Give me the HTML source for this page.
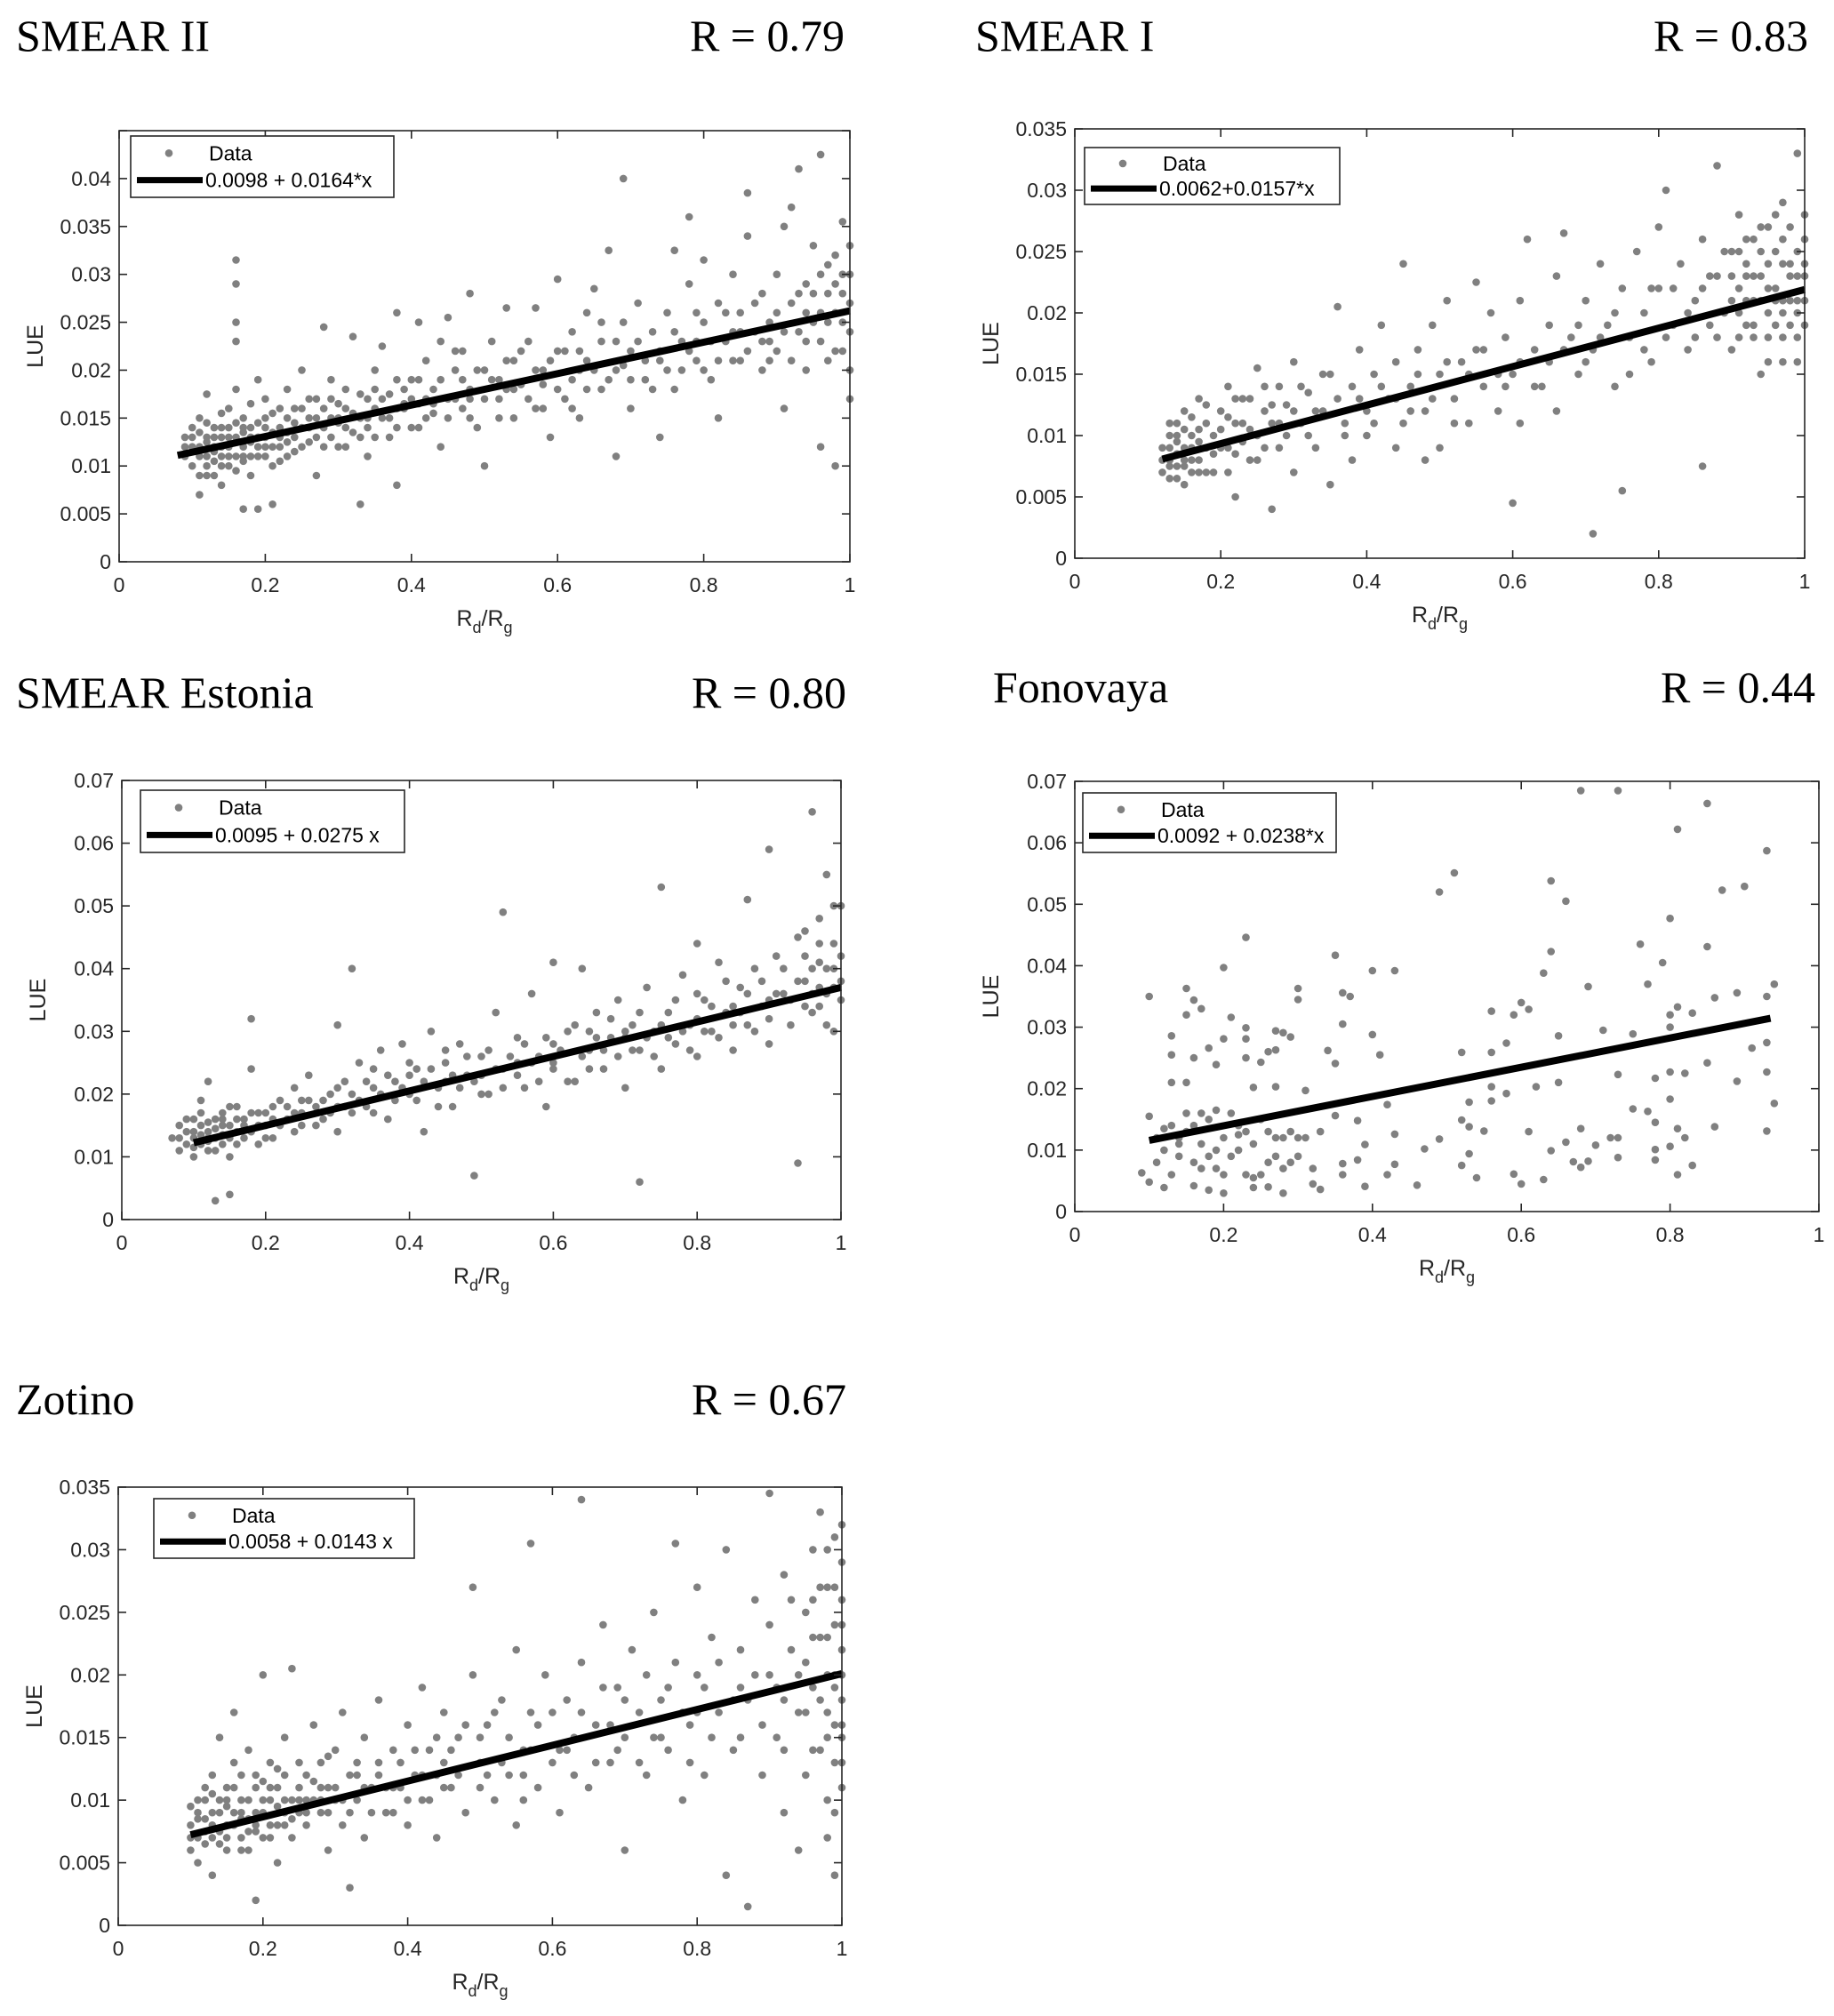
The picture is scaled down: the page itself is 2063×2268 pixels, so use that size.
<!DOCTYPE html>
<html><head><meta charset="utf-8">
<style>
html,body{margin:0;padding:0;background:#fff;}
svg{display:block;}
.t{font-family:"Liberation Serif",serif;font-size:50px;fill:#000;}
.tk{font-family:"Liberation Sans",sans-serif;font-size:23px;fill:#262626;}
.lg{font-family:"Liberation Sans",sans-serif;font-size:23px;fill:#000;}
.al{font-family:"Liberation Sans",sans-serif;font-size:25px;fill:#262626;}
</style></head>
<body>
<svg id="fig" width="2063" height="2268" viewBox="0 0 2063 2268" xmlns="http://www.w3.org/2000/svg"></svg>
<script>
// ---- data (x = Rd/Rg, y = LUE in units of 0.001) ----
const p1Pts=[[.09,11],[.09,13],[.10,12],[.10,10],[.10,14],[.11,9],[.11,12],[.11,15],[.11,7],[.12,11],[.12,13],[.12,10],[.12,17.5],[.13,12],[.13,14],[.13,9],[.13,11.5],[.14,13],[.14,10],[.14,15.5],[.14,8],[.15,12],[.15,14],[.15,11],[.15,16],[.16,13],[.16,9.5],[.16,31.5],[.16,29],[.16,25],[.16,23],[.16,18],[.17,12],[.17,15],[.17,10.5],[.17,5.5],[.18,14],[.18,12.5],[.18,16.5],[.18,9],[.19,13],[.19,11],[.19,19],[.19,5.5],[.20,15],[.20,12],[.20,17],[.21,13.5],[.21,10],[.21,6],[.22,14],[.22,16],[.22,12],[.23,15],[.23,11],[.23,18],[.24,14.5],[.24,13],[.25,16],[.25,12],[.25,20],[.26,15],[.26,17],[.27,13],[.27,9],[.28,16],[.28,24.5],[.28,14],[.29,15],[.29,19],[.30,16.5],[.30,12],[.31,14],[.31,18],[.32,23.5],[.32,15.5],[.33,13],[.33,6],[.34,17],[.34,11],[.35,16],[.35,20],[.36,15],[.36,22.5],[.37,17.5],[.37,13],[.38,26],[.38,16],[.38,8],[.39,18],[.40,14],[.40,19],[.41,16.5],[.41,25],[.42,21],[.42,15],[.43,18],[.44,23],[.44,12],[.45,17],[.45,25.5],[.46,20],[.47,16],[.47,22],[.48,28],[.48,18],[.49,14],[.50,20],[.50,10],[.51,23],[.52,17],[.52,19],[.53,26.5],[.54,21],[.54,15],[.55,18.5],[.56,23],[.57,16],[.57,26.5],[.58,20],[.59,13],[.60,22],[.60,29.5],[.61,17],[.62,24],[.62,19],[.63,15],[.64,26],[.64,21],[.65,28.5],[.66,18],[.66,23],[.67,32.5],[.68,20],[.68,11],[.69,40],[.69,25],[.70,22],[.70,16],[.71,27],[.72,19],[.73,24],[.74,13],[.74,21],[.75,26],[.76,32.5],[.76,18],[.77,23],[.78,29],[.78,36],[.79,21],[.80,25],[.80,31.5],[.81,19],[.82,27],[.82,15],[.83,23],[.84,30],[.85,21],[.85,26],[.86,34],[.86,38.5],[.87,24],[.88,20],[.88,28],[.89,25],[.90,22],[.90,30],[.91,35],[.91,16],[.92,27],[.92,37],[.93,24],[.93,41],[.94,29],[.94,20],[.95,25],[.95,33],[.96,42.5],[.96,23],[.96,12],[.97,28],[.97,31],[.98,22],[.98,26],[.98,10],[.99,30],[.99,25],[.99,35.5],[1.0,27],[1.0,20],[1.0,17],[.10,11.5],[.12,12.5],[.14,11],[.17,13.5],[.20,13],[.23,13.5],[.26,14],[.30,14.5],[.34,15],[.39,16],[.43,16.5],[.48,17],[.53,18],[.58,18.5],[.63,20],[.69,20.5],[.74,22],[.79,23],[.84,24],[.89,23],[.94,26],[.97,25]];
const p1Extra=[[.09,12],[.10,13],[.11,11],[.11,13.5],[.12,9],[.12,14.5],[.13,10.5],[.13,13],[.14,12],[.14,14],[.15,10],[.15,13],[.16,11],[.16,14.5],[.17,11],[.17,14],[.18,11],[.18,13],[.19,12],[.19,14.5],[.20,11],[.20,14],[.21,12],[.21,15.5],[.22,13],[.22,10.5],[.23,12.5],[.24,11.5],[.24,16],[.25,14],[.26,12.5],[.27,15],[.27,17],[.28,12],[.29,13],[.29,17],[.30,15],[.31,12],[.31,16],[.32,13.5],[.33,15],[.33,17.5],[.34,14],[.35,13],[.35,18],[.36,17],[.37,15],[.38,14],[.38,19],[.39,16.5],[.40,17],[.41,14],[.41,19],[.42,17],[.43,15.5],[.44,19],[.45,15],[.46,17],[.46,22],[.47,19],[.48,15],[.49,20],[.50,17],[.51,19],[.52,15],[.53,21],[.54,18],[.55,22],[.56,17],[.57,20],[.58,16],[.59,21],[.60,18],[.61,22],[.62,16],[.63,22],[.64,18],[.65,20],[.66,25],[.67,19],[.68,23],[.70,19],[.71,23],[.72,21],[.73,18],[.75,20],[.76,24],[.77,20],[.78,22],[.79,26],[.80,20],[.81,23],[.82,21],[.83,26],[.84,21],[.85,24],[.86,22],[.87,27],[.88,23],[.89,21],[.90,26],[.91,24],[.92,21],[.93,28],[.94,23],[.95,28],[.96,26],[.96,30],[.97,21],[.98,29],[.98,32],[.99,22],[.99,28],[1.0,30],[1.0,24],[1.0,33]];
const p2Pts=[[.12,8],[.12,7],[.13,9],[.13,10],[.13,6.5],[.14,8.5],[.14,11],[.14,7.5],[.15,9],[.15,12],[.15,6],[.16,10],[.16,8],[.17,9.5],[.17,13],[.18,7],[.18,11],[.19,10],[.19,8.5],[.20,12],[.20,9],[.21,14],[.21,7],[.22,11],[.22,5],[.23,13],[.23,9.5],[.24,10.5],[.25,15.5],[.25,8],[.26,12],[.27,4],[.27,11],[.28,14],[.28,9],[.29,12.5],[.30,16],[.30,7],[.31,11],[.32,13.5],[.33,9],[.34,12],[.35,15],[.35,6],[.36,20.5],[.37,11],[.38,14],[.38,8],[.39,17],[.40,12],[.40,10],[.41,15],[.42,19],[.43,13],[.44,9],[.44,16],[.45,24],[.45,11],[.46,14],[.47,17],[.48,12],[.48,8],[.49,19],[.50,15],[.50,9],[.51,21],[.52,13],[.53,16],[.54,11],[.55,22.5],[.55,17],[.56,14],[.57,20],[.58,12],[.59,18],[.60,15],[.60,4.5],[.61,21],[.61,11],[.62,26],[.63,17],[.64,14],[.65,19],[.66,23],[.66,12],[.67,26.5],[.68,18],[.69,15],[.70,21],[.71,2],[.71,17],[.72,24],[.73,19],[.74,14],[.75,22],[.75,5.5],[.76,18],[.77,25],[.78,20],[.79,16],[.80,22],[.80,27],[.81,30],[.82,19],[.83,24],[.84,17],[.85,21],[.86,26],[.86,7.5],[.87,19],[.88,23],[.88,32],[.89,20],[.90,25],[.90,17],[.91,22],[.91,28],[.92,24],[.92,19],[.93,21],[.93,26],[.94,23],[.94,15],[.95,20],[.95,27],[.96,22],[.96,25],[.97,18],[.97,29],[.98,24],[.98,21],[.99,33],[.99,16],[1.0,23],[1.0,26],[.91,20],[.92,23],[.93,18],[.94,25],[.95,22],[.96,19],[.97,24],[.98,27],[.99,20],[1.0,21],[.97,21],[.99,23],[.13,8],[.15,7.5],[.17,8],[.14,9.5]];
const p2Extra=[[.12,9],[.13,7.5],[.13,11],[.14,6.5],[.14,10],[.15,8],[.15,10.5],[.16,7],[.16,9],[.16,11.5],[.17,7],[.17,10.5],[.18,9],[.18,12.5],[.19,7],[.20,10.5],[.21,9],[.21,11.5],[.22,8.5],[.22,13],[.23,11],[.24,8],[.24,13],[.25,10],[.26,9],[.26,14],[.27,12.5],[.28,11],[.29,10],[.30,12],[.31,14],[.32,10],[.33,12],[.34,15],[.36,13],[.37,10],[.39,13],[.41,11],[.42,14],[.44,13],[.46,12],[.47,15],[.49,13],[.51,16],[.52,11],[.54,15],[.56,17],[.58,15],[.59,14],[.61,16],[.63,14],[.65,16],[.67,17],[.69,19],[.70,16],[.72,18],[.74,20],[.76,15],[.78,17],[.79,22],[.81,18],[.82,22],[.84,20],[.85,18],[.86,22],[.87,23],[.88,18],[.89,25],[.90,21],[.90,23],[.91,18],[.91,25],[.92,21],[.92,26],[.93,23],[.93,19],[.94,21],[.94,27],[.95,24],[.95,18],[.96,21],[.96,28],[.97,26],[.97,16],[.98,19],[.98,23],[.99,25],[.99,18],[1.0,19],[1.0,24],[1.0,28],[.95,16],[.97,20],[.99,21]];
const p3Pts=[[.07,13],[.08,15],[.08,11],[.09,14],[.09,12],[.10,16],[.10,10],[.10,13],[.11,15],[.11,12],[.11,19],[.12,14],[.12,11],[.12,22],[.13,16],[.13,13],[.13,3],[.14,12],[.14,17],[.15,15],[.15,10],[.15,4],[.16,14],[.16,18],[.17,13],[.17,16],[.18,24],[.18,32],[.19,17],[.19,12],[.20,15],[.21,18],[.21,13],[.22,19],[.23,16],[.24,21],[.24,14],[.25,17],[.26,23],[.27,15],[.28,19],[.29,20],[.30,31],[.30,14],[.31,22],[.32,40],[.32,17],[.33,25],[.34,18],[.35,21],[.36,27],[.37,16],[.38,22],[.39,28],[.40,20],[.41,24],[.42,14],[.43,30],[.44,21],[.45,25],[.46,18],[.47,28],[.48,23],[.49,7],[.50,26],[.51,20],[.52,33],[.53,49],[.53,24],[.55,29],[.56,21],[.57,36],[.58,26],[.59,18],[.60,41],[.60,25],[.62,30],[.63,22],[.64,40],[.65,27],[.66,33],[.67,24],[.68,29],[.69,35],[.70,21],[.71,31],[.72,6],[.72,27],[.73,37],[.74,30],[.75,53],[.75,24],[.76,33],[.77,28],[.78,39],[.79,31],[.80,44],[.80,26],[.81,35],[.82,30],[.83,41],[.84,33],[.85,27],[.86,37],[.87,51],[.87,31],[.88,40],[.89,34],[.90,59],[.90,28],[.91,42],[.92,36],[.93,31],[.94,45],[.94,9],[.95,38],[.96,65],[.96,33],[.97,41],[.97,48],[.98,36],[.98,55],[.99,30],[.99,44],[1.0,38],[1.0,50],[.10,14],[.12,13],[.14,15],[.16,16],[.20,17],[.25,19],[.30,18],[.35,24],[.40,23],[.45,22],[.50,23],[.55,25],[.60,28],[.65,30],[.70,29],[.75,31],[.80,32],[.85,34],[.90,35],[.95,42],[.97,37],[.99,40]];
const p3Extra=[[.08,13],[.09,16],[.10,11.5],[.11,13.5],[.11,17],[.12,15.5],[.12,12.5],[.13,14.5],[.13,11],[.14,13.5],[.14,16],[.15,13],[.15,18],[.16,12],[.17,15],[.18,14],[.18,17],[.19,15],[.20,13],[.21,16],[.22,15],[.23,18],[.24,17],[.25,15],[.26,19],[.27,18],[.28,16],[.29,17],[.30,21],[.31,18],[.32,20],[.33,19],[.34,22],[.35,17],[.36,20],[.37,23],[.38,19],[.39,21],[.40,25],[.41,19],[.42,22],[.43,24],[.44,18],[.45,27],[.46,23],[.47,21],[.48,26],[.49,22],[.50,20],[.51,27],[.52,24],[.53,21],[.54,26],[.55,23],[.56,28],[.57,25],[.58,22],[.59,29],[.60,24],[.61,27],[.62,22],[.63,31],[.64,26],[.65,24],[.66,29],[.67,27],[.68,32],[.69,26],[.70,30],[.71,27],[.72,33],[.73,29],[.74,26],[.76,29],[.77,35],[.78,30],[.79,27],[.80,36],[.81,30],[.82,34],[.83,29],[.84,38],[.85,31],[.86,33],[.87,36],[.88,30],[.89,38],[.90,32],[.91,36],[.92,40],[.93,35],[.94,38],[.95,34],[.95,46],[.96,40],[.96,36],[.97,34],[.97,44],[.98,40],[.98,31],[.99,37],[.99,50],[1.0,35],[1.0,42]];
const p4Pts=[[.10,35],[.68,68.5],[.73,68.5],[.85,66.4],[.81,62.2],[.93,58.7],[.51,55.1],[.49,52],[.64,53.8],[.66,50.5],[.87,52.3],[.90,52.9],[.80,47.7],[.23,44.6],[.76,43.5],[.85,43.1],[.35,41.7],[.64,42.3],[.40,39.2],[.43,39.2],[.63,38.8],[.79,40.5],[.20,39.7],[.77,37],[.69,36.6],[.15,36.3],[.36,35.6],[.37,35],[.89,35.6],[.86,34.8],[.94,37],[.93,35],[.30,36.3],[.30,34.5],[.16,34.4],[.60,34],[.56,32.6],[.59,32],[.61,32.9],[.83,32.3],[.81,33.3],[.80,32],[.17,33],[.15,32],[.21,31.6],[.36,30.5],[.27,29.4],[.28,29.1],[.23,29.9],[.29,28.4],[.13,28.6],[.40,28.8],[.58,27.4],[.65,28.6],[.71,29.5],[.75,28.9],[.20,28.1],[.23,28.1],[.80,30],[.93,27.5],[.91,26.6],[.85,24.2],[.56,25.9],[.52,25.9],[.34,26.2],[.26,26],[.27,26.3],[.18,26.6],[.13,25.5],[.16,25],[.23,25],[.25,24.3],[.35,24.1],[.41,25.5],[.19,23.9],[.73,22.3],[.82,22.5],[.80,22.7],[.93,22.7],[.89,21.2],[.65,21],[.78,21.7],[.62,20.3],[.56,20.3],[.58,19.2],[.31,19.7],[.24,20.2],[.27,20.3],[.13,21],[.15,21],[.94,17.6],[.80,18.3],[.42,17.4],[.56,18],[.53,17.8],[.75,16.7],[.77,16.3],[.78,14.5],[.53,13.8],[.55,13.1],[.52,14.9],[.38,14.8],[.35,15.6],[.61,13],[.86,13.8],[.93,13.1],[.81,13.5],[.82,12],[.68,13.5],[.72,12],[.73,12],[.70,10.8],[.66,11.3],[.43,12.6],[.49,11.8],[.47,10.2],[.39,10.9],[.64,9.9],[.67,8.1],[.69,8.2],[.68,7.2],[.73,8.8],[.78,8.4],[.78,10.1],[.80,10.6],[.83,7.5],[.81,6],[.52,7.5],[.54,5.5],[.53,9.4],[.60,4.5],[.59,6.1],[.63,5.2],[.46,4.3],[.43,7.7],[.42,6],[.39,4.1],[.38,8.4],[.36,7.8],[.36,6],[.33,3.6],[.32,4.5],[.28,3],[.26,4],[.24,3.9],[.20,3],[.18,3.5],[.16,4.2],[.12,3.9],[.10,4.8],[.09,6.3],[.11,12],[.12,10],[.13,14],[.14,9],[.15,13],[.16,8],[.17,11],[.18,15],[.19,7],[.20,12],[.21,9],[.22,14],[.23,6],[.24,11],[.25,15],[.26,8],[.27,12],[.28,7],[.29,13],[.30,9],[.11,8],[.13,6],[.15,16],[.17,7],[.19,10],[.21,16],[.23,13],[.25,6],[.27,9],[.29,8],[.31,12],[.32,7],[.14,12],[.16,14],[.18,9],[.20,6],[.22,10],[.24,5.5],[.26,13],[.28,12],[.10,15.5],[.12,13.5],[.14,11],[.17,16],[.19,16.5],[.22,12.5],[.30,12],[.33,13]];
const p4Extra=[];
const p5Pts=[[.10,8],[.10,6],[.10,9.5],[.11,7],[.11,10],[.11,5],[.12,8.5],[.12,11],[.12,6.5],[.13,9],[.13,12],[.13,4],[.14,7.5],[.14,10],[.14,15],[.15,8],[.15,6],[.15,11],[.16,9],[.16,13],[.16,17],[.17,7],[.17,10],[.17,12],[.18,8.5],[.18,6],[.18,14],[.19,9],[.19,11],[.19,2],[.20,10],[.20,7],[.20,20],[.21,8],[.21,13],[.22,9.5],[.22,11],[.22,5],[.23,10],[.23,15],[.24,7],[.24,20.5],[.25,11],[.25,9],[.26,12],[.26,8],[.27,16],[.27,10],[.28,9],[.28,13],[.29,11],[.29,6],[.30,14],[.30,10],[.31,8],[.31,17],[.32,12],[.32,3],[.33,10],[.34,15],[.34,7],[.35,11],[.36,13],[.36,18],[.37,9],[.38,14],[.39,11],[.40,16],[.40,8],[.41,12],[.42,19],[.42,10],[.43,14],[.44,7],[.45,13],[.45,17],[.46,11],[.47,15],[.48,9],[.49,20],[.49,27],[.50,13],[.51,16],[.52,10],[.53,18],[.54,12],[.55,22],[.55,8],[.56,14],[.57,17],[.57,30.5],[.58,11],[.59,20],[.60,13],[.61,9],[.62,18],[.63,15],[.64,34],[.64,21],[.65,11],[.66,16],[.67,24],[.68,13],[.69,19],[.70,6],[.70,15],[.71,22],[.72,17],[.73,12],[.74,25],[.75,18],[.76,14],[.77,30.5],[.77,21],[.78,10],[.79,16],[.80,27],[.80,20],[.81,12],[.82,23],[.83,17],[.84,4],[.84,30],[.85,14],[.86,22],[.87,1.5],[.87,18],[.88,26],[.89,12],[.90,34.5],[.90,20],[.91,15],[.92,28],[.92,9],[.93,22],[.94,17],[.94,6],[.95,25],[.95,12],[.96,30],[.96,19],[.97,23],[.97,14],[.97,33],[.98,20],[.98,27],[.98,10],[.99,16],[.99,24],[.99,31],[1.0,18],[1.0,22],[1.0,13],[1.0,26],[.99,4],[.98,7],[1.0,29],[.11,8.5],[.13,7],[.15,9.5],[.17,8.5],[.19,7.5],[.21,10],[.23,8],[.26,10],[.28,11],[.33,12],[.38,11],[.44,12],[.50,11],[.56,12],[.62,14],[.68,16],[.74,15],[.80,17],[.86,19],[.92,18],[.96,23],[.98,17],[.99,20],[1.0,15]];
const p5Extra=[[.10,7],[.11,9],[.12,7.5],[.12,10],[.13,8],[.13,10.5],[.14,6.5],[.14,9],[.15,7],[.15,10],[.16,8],[.16,11],[.17,9],[.17,6],[.18,10],[.18,7.5],[.19,8],[.19,12],[.20,9],[.20,11.5],[.21,7],[.21,11],[.22,8],[.22,12.5],[.23,9],[.23,12],[.24,10],[.24,8.5],[.25,10],[.25,13],[.26,9],[.27,11.5],[.28,10],[.29,9],[.29,13.5],[.30,11],[.31,10],[.32,9],[.33,13],[.34,11],[.35,9],[.36,12],[.37,11],[.38,9],[.39,13],[.40,10],[.41,14],[.42,12],[.43,10],[.44,15],[.45,11],[.46,14],[.47,12],[.48,16],[.50,15],[.51,12],[.52,17],[.53,13],[.54,15],[.56,10],[.57,14],[.58,16],[.60,17],[.61,14],[.63,12],[.64,17],[.66,13],[.67,19],[.69,14],[.70,18],[.72,13],[.73,20],[.75,15],[.76,19],[.78,17],[.79,13],[.81,19],[.82,15],[.83,21],[.85,18],[.86,15],[.88,20],[.89,16],[.90,24],[.91,19],[.92,14],[.93,26],[.94,20],[.95,17],[.95,21],[.96,14],[.96,26],[.97,18],[.97,27],[.98,15],[.98,23],[.98,30],[.99,13],[.99,19],[.99,27],[1.0,16],[1.0,20],[1.0,24],[1.0,32],[.99,9],[1.0,11]];
const fits=[[9.8,16.4,.08,1.0],[6.2,15.7,.12,1.0],[9.5,27.5,.10,1.0],[9.2,23.8,.10,.935],[5.8,14.3,.10,1.0]];
const legendLabels=["0.0098 + 0.0164*x","0.0062+0.0157*x","0.0095 + 0.0275 x","0.0092 + 0.0238*x","0.0058 + 0.0143 x"];
const titles=["SMEAR II","SMEAR I","SMEAR Estonia","Fonovaya","Zotino"];
const rLabels=["R = 0.79","R = 0.83","R = 0.80","R = 0.44","R = 0.67"];
const yMaxes=[45,35,70,70,35];
const yStepsArr=[5,5,10,10,5];
const yTickLabels5=["0","0.005","0.01","0.015","0.02","0.025","0.03","0.035","0.04"];
const yTickLabels10=["0","0.01","0.02","0.03","0.04","0.05","0.06","0.07"];
const xTickLabels=["0","0.2","0.4","0.6","0.8","1"];
const allPts=[p1Pts.concat(p1Extra),p2Pts.concat(p2Extra),p3Pts.concat(p3Extra),p4Pts.concat(p4Extra),p5Pts.concat(p5Extra)];

// ---- layout ----
const layouts=[
 {L:134,R:956,T:147,B:632,tx:18,tb:57,rx:950,lg:[147,153,296,69]},
 {L:1209,R:2030,T:145,B:628,tx:1097,tb:57,rx:2034,lg:[1220,166,287,64]},
 {L:137,R:946,T:878,B:1372,tx:18,tb:796,rx:952,lg:[158,889,297,70]},
 {L:1209,R:2046,T:879,B:1363,tx:1117,tb:790,rx:2042,lg:[1218,892,285,67]},
 {L:133,R:947,T:1673,B:2166,tx:18,tb:1591,rx:952,lg:[173,1686,293,67]}
];
const NS="http://www.w3.org/2000/svg";
const svg=document.getElementById('fig');
function mk(tag,attrs,parent,txt){const e=document.createElementNS(NS,tag);for(const k in attrs)e.setAttribute(k,attrs[k]);if(txt!==undefined)e.textContent=txt;parent.appendChild(e);return e;}

for(let i=0;i<5;i++){
  const Lo=layouts[i];
  const g=mk('g',{},svg);
  
  
  const xs=v=>Lo.L+v*(Lo.R-Lo.L);
  const ys=v=>Lo.B-v/yMaxes[i]*(Lo.B-Lo.T);
  const t=mk('text',{x:Lo.tx,y:Lo.tb,class:'t'},g,titles[i]);
  
  
  const r=mk('text',{x:Lo.rx,y:Lo.tb,class:'t','text-anchor':'end'},g,rLabels[i]);
  
  
  const pg=mk('g',{fill:'#808080'},g);
  
  
  allPts[i].forEach(p=>{
    const c=mk('circle',{cx:xs(p[0]).toFixed(1),cy:ys(p[1]).toFixed(1),r:4.3},pg);
    
    
  });
  const f=fits[i];
  const fl=mk('line',{x1:xs(f[2]),y1:ys(f[0]+f[1]*f[2]),x2:xs(f[3]),y2:ys(f[0]+f[1]*f[3]),stroke:'#000','stroke-width':8},g);
  
  
  const bx=mk('rect',{x:Lo.L,y:Lo.T,width:Lo.R-Lo.L,height:Lo.B-Lo.T,fill:'none',stroke:'#262626','stroke-width':1.6},g);
  
  
  const labs=yStepsArr[i]===5?yTickLabels5:yTickLabels10;
  for(let k=0;k*yStepsArr[i]<=yMaxes[i];k++){
    const v=k*yStepsArr[i];const y=ys(v);
    mk('line',{x1:Lo.L,y1:y,x2:Lo.L+9,y2:y,stroke:'#262626','stroke-width':1.6},g);
    mk('line',{x1:Lo.R,y1:y,x2:Lo.R-9,y2:y,stroke:'#262626','stroke-width':1.6},g);
    const tl=mk('text',{x:Lo.L-9,y:y+8,class:'tk','text-anchor':'end'},g,labs[k]);
    
    
  }
  xTickLabels.forEach((lab,k)=>{
    const x=xs(k*0.2);
    mk('line',{x1:x,y1:Lo.B,x2:x,y2:Lo.B-9,stroke:'#262626','stroke-width':1.6},g);
    mk('line',{x1:x,y1:Lo.T,x2:x,y2:Lo.T+9,stroke:'#262626','stroke-width':1.6},g);
    const tl=mk('text',{x:x,y:Lo.B+34,class:'tk','text-anchor':'middle'},g,lab);
    
    
  });
  const xm=(Lo.L+Lo.R)/2, ym=(Lo.T+Lo.B)/2;
  const xt=mk('text',{x:xm,y:Lo.B+72,class:'al','text-anchor':'middle'},g);
  
  
  xt.innerHTML='R<tspan dy="8" font-size="18">d</tspan><tspan dy="-8">/R</tspan><tspan dy="8" font-size="18">g</tspan>';
  const yt=mk('text',{x:Lo.L-86,y:ym,class:'al','text-anchor':'middle',transform:'rotate(-90 '+(Lo.L-86)+' '+ym+')'},g,'LUE');
  
  
  const [lx,ly,lw,lh]=Lo.lg;
  const lgG=mk('g',{},g);
  
  
  mk('rect',{x:lx,y:ly,width:lw,height:lh,fill:'#fff',stroke:'#262626','stroke-width':1.6},lgG);
  const ld=mk('circle',{cx:lx+43,cy:ly+lh*0.28,r:4.3,fill:'#808080'},lgG);
  
  
  const lt1=mk('text',{x:lx+88,y:ly+lh*0.28+8,class:'lg'},lgG,'Data');
  
  
  const ll=mk('line',{x1:lx+7,y1:ly+lh*0.72,x2:lx+81,y2:ly+lh*0.72,stroke:'#000','stroke-width':7},lgG);
  
  
  const lt2=mk('text',{x:lx+84,y:ly+lh*0.72+8,class:'lg'},lgG,legendLabels[i]);
  
  
}
</script>
</body></html>
